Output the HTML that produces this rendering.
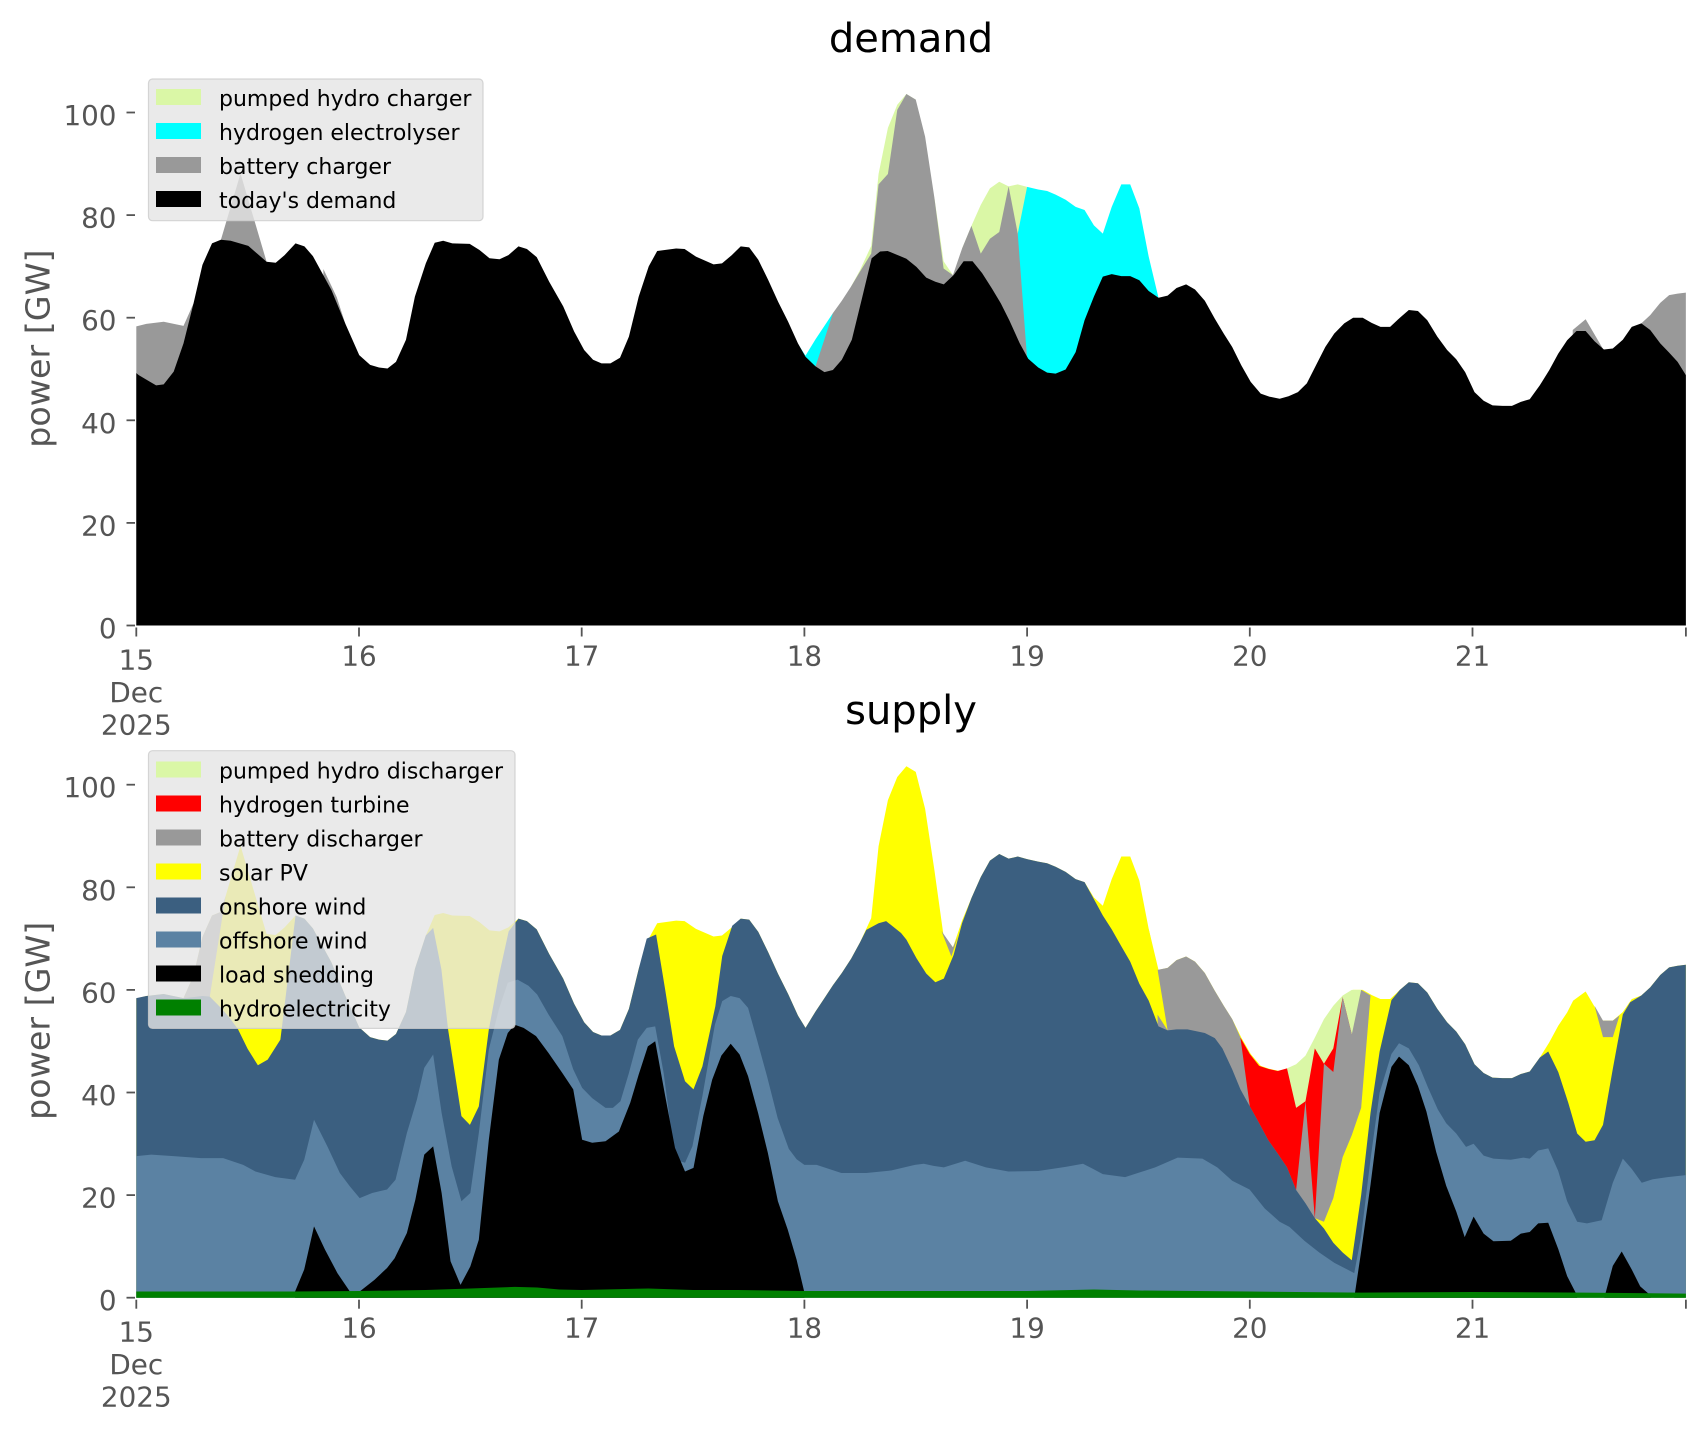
<!DOCTYPE html>
<html>
<head>
<meta charset="utf-8">
<style>
  html, body { margin: 0; padding: 0; background: #ffffff; }
  svg { display: block; }
  text { font-family: "DejaVu Sans", "Liberation Sans", sans-serif; }
</style>
</head>
<body>
<svg width="1706" height="1431" viewBox="0 0 1706 1431" xmlns="http://www.w3.org/2000/svg">
  <rect x="0" y="0" width="1706" height="1431" fill="#ffffff"/>

  <!-- ===================== TOP: demand ===================== -->
  <text x="911" y="52" font-size="40" text-anchor="middle" fill="#000">demand</text>

  <g transform="matrix(222.7 0 0 -5.13 136.3 625.5)">
    <!-- pumped hydro charger -->
    <polygon fill="#daf7a6" points="3.21,0 3.21,66.1 3.25,69.3 3.30,74 3.333,88 3.375,97 3.417,101.5 3.458,103.6 3.5,102.5 3.5,0"/>
    <polygon fill="#daf7a6" points="3.583,0 3.583,83.6 3.625,71 3.667,68.3 3.667,0"/>
    <polygon fill="#daf7a6" points="3.708,0 3.708,73.5 3.75,77.9 3.792,82 3.833,85.2 3.875,86.5 3.917,85.6 3.958,86 4.0,85.5 4.0,0"/>
    <!-- hydrogen electrolyser -->
    <polygon fill="#00ffff" points="2.96,0 2.96,55.6 3.005,52.6 3.05,55.8 3.09,58.4 3.128,60.9 3.128,0"/>
    <polygon fill="#00ffff" points="3.958,0 3.958,76.4 4.0,85.5 4.05,85.0 4.09,84.7 4.128,84.0 4.173,83.0 4.218,81.6 4.258,81.0 4.3,78.0 4.34,76.4 4.38,81.6 4.423,86.0 4.463,86.0 4.504,81.3 4.546,71.9 4.59,63.9 4.59,0"/>
    <!-- battery charger -->
    <polygon fill="#999999" points="0,0 0,58.3 0.045,58.8 0.123,59.2 0.212,58.4 0.257,62.8 0.257,0"/>
    <polygon fill="#999999" points="0.34,0 0.34,74.5 0.38,75.2 0.468,88.1 0.585,70.9 0.585,0"/>
    <polygon fill="#999999" points="0.84,0 0.84,69.5 0.9,64 0.938,58.9 0.938,0"/>
    <polygon fill="#999999" points="3.05,0 3.05,50.5 3.09,55.8 3.128,60.9 3.168,63.3 3.21,66.1 3.25,69.0 3.30,72.5 3.333,86 3.375,88 3.417,100.5 3.458,103.6 3.5,102.5 3.542,95.3 3.583,83.6 3.625,69.6 3.667,68.3 3.708,73.5 3.75,77.9 3.792,72.5 3.833,75.4 3.875,76.7 3.917,85.6 3.958,76.4 4.0,52.0 4.0,0"/>
    <polygon fill="#999999" points="6.45,0 6.45,57.6 6.508,59.7 6.585,54.0 6.585,0"/>
    <polygon fill="#999999" points="6.758,0 6.758,58.9 6.798,60.5 6.843,62.9 6.883,64.4 6.921,64.7 6.958,64.9 6.958,0"/>
    <!-- today's demand -->
    <polygon fill="#000000" points="0,0 0,49.2 0.011,48.8 0.089,46.8 0.123,47.0 0.168,49.5 0.212,55.0 0.257,62.8 0.297,70.3 0.34,74.5 0.38,75.2 0.424,75.0 0.503,74.0 0.585,70.9 0.626,70.7 0.666,72.2 0.715,74.5 0.755,73.9 0.793,72.0 0.876,65.4 0.938,58.9 1.001,52.7 1.05,50.8 1.09,50.3 1.128,50.1 1.166,51.4 1.211,55.7 1.251,64.1 1.3,70.6 1.34,74.6 1.378,75.0 1.419,74.5 1.497,74.4 1.541,73.2 1.586,71.6 1.631,71.4 1.671,72.2 1.716,73.9 1.754,73.4 1.798,71.8 1.854,67.0 1.917,62.2 1.966,57.3 2.011,53.7 2.051,51.8 2.089,51.1 2.129,51.1 2.172,52.2 2.212,56.3 2.256,64.1 2.301,70.0 2.339,73.0 2.424,73.5 2.462,73.4 2.513,71.9 2.592,70.4 2.63,70.6 2.674,72.2 2.714,73.9 2.752,73.7 2.793,71.3 2.837,67.4 2.882,63.1 2.927,59.2 2.971,55.0 3.005,52.4 3.05,50.5 3.09,49.4 3.128,49.8 3.168,51.8 3.213,55.7 3.257,63.5 3.302,71.6 3.34,72.9 3.374,73.0 3.43,72.0 3.458,71.5 3.503,69.9 3.547,67.8 3.588,67.0 3.626,66.5 3.67,68.3 3.715,71.0 3.755,71.0 3.798,68.7 3.842,65.7 3.882,62.8 3.92,59.5 3.967,55.0 4.005,52.0 4.05,50.3 4.09,49.3 4.128,49.1 4.173,49.9 4.218,53.3 4.258,59.5 4.3,64.1 4.34,68.0 4.38,68.5 4.423,68.1 4.463,68.1 4.504,67.3 4.546,65.2 4.59,63.9 4.631,64.3 4.671,65.8 4.714,66.5 4.754,65.5 4.798,63.3 4.843,59.8 4.883,56.9 4.921,54.3 4.962,50.7 5.004,47.5 5.049,45.2 5.089,44.6 5.134,44.2 5.174,44.7 5.216,45.5 5.256,47.2 5.297,50.7 5.339,54.3 5.379,56.9 5.424,58.9 5.464,60.0 5.507,60.0 5.547,59.0 5.587,58.2 5.63,58.2 5.674,60.0 5.714,61.5 5.755,61.3 5.797,59.5 5.842,56.3 5.886,53.7 5.927,51.9 5.967,49.4 6.009,45.5 6.05,43.8 6.09,42.9 6.135,42.8 6.177,42.8 6.217,43.6 6.257,44.1 6.302,46.8 6.345,49.8 6.385,53.0 6.425,55.6 6.467,57.4 6.508,57.4 6.548,55.4 6.59,53.8 6.63,54.0 6.675,55.7 6.715,58.2 6.758,58.9 6.798,57.6 6.843,55.0 6.883,53.2 6.921,51.4 6.958,48.8 6.958,0"/>
  </g>

  <!-- top axes ticks -->
  <g stroke="#555555" stroke-width="1.8">
    <line x1="126.5" y1="625.5" x2="135" y2="625.5"/>
    <line x1="126.5" y1="522.9" x2="135" y2="522.9"/>
    <line x1="126.5" y1="420.3" x2="135" y2="420.3"/>
    <line x1="126.5" y1="317.7" x2="135" y2="317.7"/>
    <line x1="126.5" y1="215.1" x2="135" y2="215.1"/>
    <line x1="126.5" y1="112.5" x2="135" y2="112.5"/>
    <line x1="136.3" y1="627.5" x2="136.3" y2="636.5"/>
    <line x1="359" y1="627.5" x2="359" y2="636.5"/>
    <line x1="581.7" y1="627.5" x2="581.7" y2="636.5"/>
    <line x1="804.4" y1="627.5" x2="804.4" y2="636.5"/>
    <line x1="1027.1" y1="627.5" x2="1027.1" y2="636.5"/>
    <line x1="1249.8" y1="627.5" x2="1249.8" y2="636.5"/>
    <line x1="1472.5" y1="627.5" x2="1472.5" y2="636.5"/>
    <line x1="1685.9" y1="627.5" x2="1685.9" y2="636.5"/>
  </g>
  <g font-size="27.8" fill="#555555" text-anchor="end">
    <text x="116.5" y="638">0</text>
    <text x="116.5" y="535.4">20</text>
    <text x="116.5" y="432.8">40</text>
    <text x="116.5" y="330.2">60</text>
    <text x="116.5" y="227.6">80</text>
    <text x="116.5" y="125">100</text>
  </g>
  <g font-size="27.8" fill="#555555" text-anchor="middle">
    <text x="136.3" y="669.5">15</text>
    <text x="136.3" y="702">Dec</text>
    <text x="136.3" y="734.5">2025</text>
    <text x="359" y="665.5">16</text>
    <text x="581.7" y="665.5">17</text>
    <text x="804.4" y="665.5">18</text>
    <text x="1027.1" y="665.5">19</text>
    <text x="1249.8" y="665.5">20</text>
    <text x="1472.5" y="665.5">21</text>
  </g>
  <text transform="translate(38 348.6) rotate(-90)" font-size="33.3" fill="#555555" text-anchor="middle" dominant-baseline="central">power [GW]</text>

  <!-- top legend -->
  <rect x="148.5" y="79" width="334.5" height="141.7" rx="4" ry="4" fill="rgba(229,229,229,0.8)" stroke="rgba(204,204,204,0.8)" stroke-width="1.2"/>
  <rect x="156" y="89" width="45" height="16" fill="#daf7a6"/>
  <rect x="156" y="123" width="45" height="16" fill="#00ffff"/>
  <rect x="156" y="157" width="45" height="16" fill="#999999"/>
  <rect x="156" y="191" width="45" height="16" fill="#000000"/>
  <g font-size="22" fill="#000">
    <text x="219" y="106">pumped hydro charger</text>
    <text x="219" y="140">hydrogen electrolyser</text>
    <text x="219" y="174">battery charger</text>
    <text x="219" y="208">today's demand</text>
  </g>

  <!-- ===================== BOTTOM: supply ===================== -->
  <text x="911" y="724" font-size="40" text-anchor="middle" fill="#000">supply</text>

  <g transform="matrix(222.7 0 0 -5.13 136.3 1297.7)">
    <!-- total envelope (solar default) -->
    <polygon fill="#ffff00" points="0,0 0,58.3 0.045,58.8 0.123,59.2 0.212,58.4 0.257,62.8 0.297,70.3 0.34,74.5 0.38,75.2 0.468,88.1 0.585,70.9 0.626,70.7 0.666,72.2 0.715,74.5 0.755,73.9 0.793,72.0 0.876,65.4 0.938,58.9 1.001,52.7 1.05,50.8 1.09,50.3 1.128,50.1 1.166,51.4 1.211,55.7 1.251,64.1 1.3,70.6 1.34,74.6 1.378,75.0 1.419,74.5 1.497,74.4 1.541,73.2 1.586,71.6 1.631,71.4 1.671,72.2 1.716,73.9 1.754,73.4 1.798,71.8 1.854,67.0 1.917,62.2 1.966,57.3 2.011,53.7 2.051,51.8 2.089,51.1 2.129,51.1 2.172,52.2 2.212,56.3 2.256,64.1 2.301,70.0 2.339,73.0 2.424,73.5 2.462,73.4 2.513,71.9 2.592,70.4 2.63,70.6 2.674,72.2 2.714,73.9 2.752,73.7 2.793,71.3 2.837,67.4 2.882,63.1 2.927,59.2 2.971,55.0 3.005,52.6 3.05,55.8 3.09,58.4 3.128,60.9 3.168,63.3 3.21,66.1 3.25,69.3 3.30,74 3.333,88 3.375,97 3.417,101.5 3.458,103.6 3.5,102.5 3.542,95.3 3.583,83.6 3.625,70.5 3.667,68.3 3.708,73.5 3.75,77.9 3.792,82 3.833,85.2 3.875,86.5 3.917,85.6 3.958,86 4.0,85.5 4.05,85.0 4.09,84.7 4.128,84.0 4.173,83.0 4.218,81.6 4.258,81.0 4.3,78.0 4.34,76.4 4.38,81.6 4.423,86.0 4.463,86.0 4.504,81.3 4.546,71.9 4.59,63.9 4.631,64.3 4.671,65.8 4.714,66.5 4.754,65.5 4.798,63.3 4.843,59.8 4.883,56.9 4.921,54.3 4.962,50.7 5.004,47.5 5.049,45.2 5.089,44.6 5.134,44.2 5.174,44.7 5.216,45.5 5.256,47.2 5.297,50.7 5.339,54.3 5.379,56.9 5.424,58.9 5.464,60.0 5.507,60.0 5.547,59.0 5.587,58.2 5.63,58.2 5.674,60.0 5.714,61.5 5.755,61.3 5.797,59.5 5.842,56.3 5.886,53.7 5.927,51.9 5.967,49.4 6.009,45.5 6.05,43.8 6.09,42.9 6.135,42.8 6.177,42.8 6.217,43.6 6.257,44.1 6.302,46.8 6.345,49.8 6.385,53.0 6.425,55.6 6.452,57.9 6.508,59.7 6.585,54.0 6.63,54.0 6.675,55.7 6.715,58.2 6.758,58.9 6.798,60.5 6.843,62.9 6.883,64.4 6.921,64.7 6.958,64.9 6.958,0"/>
    <!-- pumped hydro discharger -->
    <polygon fill="#daf7a6" points="5.167,0 5.167,44.7 5.208,45.5 5.25,47.2 5.292,50.7 5.333,54.3 5.375,56.9 5.417,58.9 5.458,60.0 5.5,60.0 5.5,0"/>
    <!-- hydrogen turbine -->
    <polygon fill="#ff0000" points="4.958,0 4.958,50.7 5.0,47.5 5.042,45.2 5.083,44.6 5.125,44.2 5.167,44.7 5.208,37.0 5.25,38.3 5.292,48.6 5.333,45.6 5.375,48.6 5.417,58.6 5.458,51.3 5.458,0"/>
    <!-- battery discharger -->
    <polygon fill="#999999" points="0.212,58.4 0.257,62.8 0.297,70.3 0.34,74.5 0.38,75.2 0.401,78.3 0.33,58.7"/>
    <polygon fill="#999999" points="4.586,0 4.586,63.9 4.631,64.3 4.671,65.8 4.714,66.5 4.754,65.5 4.798,63.3 4.843,59.8 4.883,56.9 4.921,54.3 4.958,50.7 5.0,37.3 5.042,34.0 5.083,30.7 5.125,28.1 5.167,25.4 5.208,21.0 5.25,38.3 5.292,15.5 5.333,45.6 5.375,44.0 5.417,58.6 5.458,51.3 5.5,60.0 5.542,58.9 5.542,0"/>
    <polygon fill="#999999" points="6.548,56.9 6.586,54.0 6.63,54.0 6.66,55.0 6.63,50.8 6.586,50.8"/>
    <polygon fill="#999999" points="3.615,71.5 3.667,68.3 3.69,70.5 3.66,66.5"/>
    <!-- solar (over battery) -->
    <polygon fill="#ffff00" points="4.546,71.9 4.586,63.9 4.631,52.1 4.546,57.9"/>
    <polygon fill="#ffff00" points="5.292,0 5.292,15.5 5.333,14.8 5.375,19.4 5.417,27.4 5.458,31.7 5.5,37.0 5.542,58.9 5.587,58.2 5.63,58.2 5.65,58.2 5.65,0"/>
    <!-- onshore wind -->
    <polygon fill="#3b5f80" points="0,0 0,58.4 0.045,58.8 0.123,59.2 0.212,58.4 0.257,58.6 0.297,58.8 0.33,58.7 0.38,56.5 0.42,54.5 0.457,52.3 0.5,48.5 0.546,45.3 0.59,46.4 0.647,50.3 0.68,62 0.715,74.5 0.755,73.9 0.793,72.0 0.876,65.4 0.938,58.9 1.001,52.7 1.05,50.8 1.09,50.3 1.128,50.1 1.166,51.4 1.211,55.7 1.251,64.1 1.3,70.6 1.333,72.1 1.37,64 1.40,52.3 1.46,35.4 1.498,33.7 1.538,37.3 1.583,52.3 1.628,62.7 1.672,71.4 1.716,73.9 1.754,73.4 1.798,71.8 1.854,67.0 1.917,62.2 1.966,57.3 2.011,53.7 2.051,51.8 2.089,51.1 2.129,51.1 2.172,52.2 2.212,56.3 2.256,64.1 2.292,70.0 2.334,70.8 2.375,60 2.415,49 2.464,42.2 2.502,40.6 2.542,45.1 2.6,56.8 2.631,66.6 2.676,72.5 2.714,73.9 2.752,73.7 2.793,71.3 2.837,67.4 2.882,63.1 2.927,59.2 2.971,55.0 3.005,52.6 3.05,55.8 3.09,58.4 3.128,60.9 3.168,63.3 3.21,66.1 3.25,69.3 3.278,71.7 3.333,73.0 3.367,73.4 3.434,71.1 3.458,69.8 3.503,66.2 3.547,63.2 3.588,61.5 3.626,62.2 3.67,66.8 3.708,73.0 3.75,77.9 3.792,82 3.833,85.2 3.875,86.5 3.917,85.6 3.958,86 4.0,85.5 4.05,85.0 4.09,84.7 4.128,84.0 4.173,83.0 4.218,81.6 4.258,81.0 4.3,77.7 4.34,74.5 4.38,71.8 4.423,68.5 4.463,65.5 4.504,61.2 4.546,57.9 4.59,52.9 4.631,52.1 4.671,52.3 4.72,52.3 4.798,51.6 4.843,50.6 4.877,48.6 4.921,44.5 4.958,40.6 5.0,37.3 5.042,34.0 5.083,30.7 5.125,28.1 5.167,25.4 5.208,21.0 5.25,18.4 5.292,15.5 5.333,13.5 5.375,10.7 5.417,8.8 5.458,7.3 5.5,20 5.542,36 5.583,48 5.636,58.0 5.674,60.0 5.714,61.5 5.755,61.3 5.797,59.5 5.842,56.3 5.886,53.7 5.927,51.9 5.967,49.4 6.009,45.5 6.05,43.8 6.09,42.9 6.135,42.8 6.177,42.8 6.217,43.6 6.257,44.1 6.302,46.8 6.34,48.0 6.385,44.0 6.43,38.0 6.47,32.0 6.508,30.4 6.548,30.7 6.586,33.7 6.63,44.6 6.675,55.2 6.708,57.6 6.758,58.9 6.798,60.5 6.843,62.9 6.883,64.4 6.921,64.7 6.958,64.9 6.958,0"/>
    <!-- offshore wind -->
    <polygon fill="#5b82a3" points="0,0 0,27.6 0.067,27.9 0.167,27.6 0.29,27.2 0.39,27.2 0.48,25.9 0.535,24.6 0.624,23.5 0.713,23.0 0.754,26.9 0.798,34.7 0.858,29.5 0.914,24.3 0.959,21.7 1.003,19.4 1.059,20.4 1.126,21.1 1.164,23.0 1.215,32.1 1.26,38.6 1.293,44.8 1.333,47.4 1.371,36.0 1.416,25.6 1.46,18.8 1.5,20.4 1.538,32.1 1.583,48.4 1.628,56.2 1.668,61.4 1.712,62.0 1.761,60.8 1.8,59.1 1.851,55.2 1.913,51.0 1.962,44.5 2.002,40.9 2.047,38.9 2.107,37.0 2.14,37.0 2.174,38.3 2.212,43.8 2.252,50.3 2.292,52.6 2.33,52.9 2.368,43.8 2.419,26.9 2.464,26.3 2.497,29.5 2.542,39.3 2.598,53.2 2.631,57.8 2.669,58.8 2.709,58.4 2.747,56.5 2.787,50.3 2.832,43.2 2.88,35 2.93,29 2.965,27 3.0,25.9 3.055,25.9 3.166,24.3 3.278,24.3 3.389,24.8 3.496,25.9 3.536,26.1 3.58,25.7 3.626,25.4 3.722,26.7 3.815,25.4 3.916,24.6 4.05,24.7 4.173,25.5 4.251,26.1 4.296,25.1 4.34,24.1 4.44,23.5 4.575,25.4 4.676,27.3 4.787,27.1 4.854,25.4 4.921,22.8 4.999,21.1 5.067,17.4 5.134,14.8 5.178,13.8 5.245,11.1 5.312,8.8 5.38,6.8 5.469,4.8 5.5,12 5.542,27 5.583,40 5.636,47.5 5.67,49.6 5.714,48.6 5.759,45.3 5.8,41 5.844,36.7 5.882,34.0 5.927,32.0 5.971,29.4 6.005,30.0 6.05,27.7 6.094,27.1 6.172,26.9 6.228,27.3 6.257,27.1 6.295,28.7 6.34,29.1 6.385,24.7 6.425,18.8 6.47,14.8 6.514,14.5 6.58,15.1 6.63,22.4 6.675,27.1 6.715,25.1 6.76,22.4 6.81,23.1 6.876,23.5 6.958,23.9 6.958,0"/>
    <!-- load shedding -->
    <polygon fill="#000000" points="0,0 0.713,0 0.713,1.2 0.754,5.5 0.798,13.9 0.847,9.4 0.903,4.8 0.959,1.2 1.003,1.2 1.07,3.5 1.126,5.8 1.16,7.7 1.215,12.6 1.253,19.1 1.293,27.9 1.333,29.5 1.371,20.4 1.411,7.1 1.456,2.5 1.5,6.1 1.538,11.3 1.583,30.8 1.628,46.4 1.668,51.6 1.699,53.2 1.739,52.6 1.795,51.0 1.851,47.7 1.913,43.8 1.962,40.6 2.002,30.8 2.047,30.2 2.107,30.5 2.167,32.4 2.218,38.0 2.256,43.5 2.297,49.0 2.33,50.0 2.375,39.3 2.419,29.2 2.464,24.6 2.502,25.3 2.546,35.4 2.586,42.5 2.627,47.2 2.669,49.5 2.709,47.4 2.747,43.2 2.792,36.0 2.836,28.2 2.881,18.8 2.925,13.3 2.965,7.4 2.999,1.2 3.0,0 5.469,0 5.5,9 5.542,22 5.583,36 5.636,45.0 5.67,47.0 5.714,45.3 5.755,41.3 5.793,36.3 5.837,28.4 5.882,21.8 5.927,16.8 5.965,11.8 6.005,15.8 6.05,12.5 6.094,11.0 6.172,11.1 6.217,12.5 6.257,12.8 6.295,14.5 6.34,14.6 6.385,9.5 6.425,4.2 6.463,1.0 6.47,0 6.592,0 6.63,6.2 6.67,9.0 6.715,5.5 6.753,2.2 6.798,0.5 6.8,0 6.958,0"/>
    <!-- hydroelectricity -->
    <polygon fill="#008000" points="0,0 0,1.2 0.7,1.2 1.0,1.3 1.3,1.5 1.5,1.8 1.7,2.1 1.8,2.0 1.9,1.6 2.0,1.5 2.3,1.8 2.5,1.5 2.7,1.5 3.0,1.3 4.0,1.3 4.3,1.6 4.5,1.4 5.0,1.2 5.5,1.0 6.0,1.1 6.5,1.0 6.958,0.8 6.958,0"/>
  </g>

  <!-- bottom axes ticks -->
  <g stroke="#555555" stroke-width="1.8">
    <line x1="126.5" y1="1297.7" x2="135" y2="1297.7"/>
    <line x1="126.5" y1="1195.1" x2="135" y2="1195.1"/>
    <line x1="126.5" y1="1092.5" x2="135" y2="1092.5"/>
    <line x1="126.5" y1="989.9" x2="135" y2="989.9"/>
    <line x1="126.5" y1="887.3" x2="135" y2="887.3"/>
    <line x1="126.5" y1="784.7" x2="135" y2="784.7"/>
    <line x1="136.3" y1="1299.7" x2="136.3" y2="1308.7"/>
    <line x1="359" y1="1299.7" x2="359" y2="1308.7"/>
    <line x1="581.7" y1="1299.7" x2="581.7" y2="1308.7"/>
    <line x1="804.4" y1="1299.7" x2="804.4" y2="1308.7"/>
    <line x1="1027.1" y1="1299.7" x2="1027.1" y2="1308.7"/>
    <line x1="1249.8" y1="1299.7" x2="1249.8" y2="1308.7"/>
    <line x1="1472.5" y1="1299.7" x2="1472.5" y2="1308.7"/>
    <line x1="1685.9" y1="1299.7" x2="1685.9" y2="1308.7"/>
  </g>
  <g font-size="27.8" fill="#555555" text-anchor="end">
    <text x="116.5" y="1310.2">0</text>
    <text x="116.5" y="1207.6">20</text>
    <text x="116.5" y="1105">40</text>
    <text x="116.5" y="1002.4">60</text>
    <text x="116.5" y="899.8">80</text>
    <text x="116.5" y="797.2">100</text>
  </g>
  <g font-size="27.8" fill="#555555" text-anchor="middle">
    <text x="136.3" y="1341.5">15</text>
    <text x="136.3" y="1374">Dec</text>
    <text x="136.3" y="1406.5">2025</text>
    <text x="359" y="1337.5">16</text>
    <text x="581.7" y="1337.5">17</text>
    <text x="804.4" y="1337.5">18</text>
    <text x="1027.1" y="1337.5">19</text>
    <text x="1249.8" y="1337.5">20</text>
    <text x="1472.5" y="1337.5">21</text>
  </g>
  <text transform="translate(38 1020.8) rotate(-90)" font-size="33.3" fill="#555555" text-anchor="middle" dominant-baseline="central">power [GW]</text>

  <!-- bottom legend -->
  <rect x="148.5" y="750.7" width="366.5" height="277.7" rx="4" ry="4" fill="rgba(229,229,229,0.8)" stroke="rgba(204,204,204,0.8)" stroke-width="1.2"/>
  <rect x="156" y="761.5" width="45" height="16" fill="#daf7a6"/>
  <rect x="156" y="795.5" width="45" height="16" fill="#ff0000"/>
  <rect x="156" y="829.5" width="45" height="16" fill="#999999"/>
  <rect x="156" y="863.5" width="45" height="16" fill="#ffff00"/>
  <rect x="156" y="897.5" width="45" height="16" fill="#3b5f80"/>
  <rect x="156" y="931.5" width="45" height="16" fill="#5b82a3"/>
  <rect x="156" y="965.5" width="45" height="16" fill="#000000"/>
  <rect x="156" y="999.5" width="45" height="16" fill="#008000"/>
  <g font-size="22" fill="#000">
    <text x="219" y="778.5">pumped hydro discharger</text>
    <text x="219" y="812.5">hydrogen turbine</text>
    <text x="219" y="846.5">battery discharger</text>
    <text x="219" y="880.5">solar PV</text>
    <text x="219" y="914.5">onshore wind</text>
    <text x="219" y="948.5">offshore wind</text>
    <text x="219" y="982.5">load shedding</text>
    <text x="219" y="1016.5">hydroelectricity</text>
  </g>
</svg>
</body>
</html>
